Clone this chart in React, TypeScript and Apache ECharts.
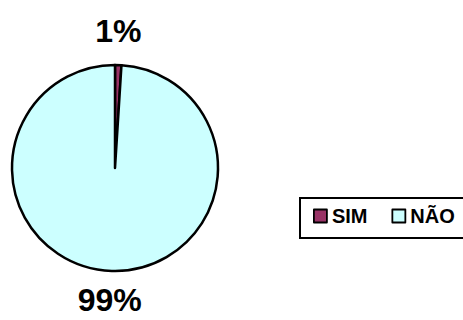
import React, { useEffect, useRef } from "react";
import * as echarts from "echarts";

const categories = ["SIM", "NÃO"];
const values = [1, 99];
const colors = ["#993366", "#CCFFFF"];
const labelOffsets = [[-6, -1], [4, -4]];

export default function App() {
  const ref = useRef<HTMLDivElement>(null);
  useEffect(() => {
    if (!ref.current) return;
    const chart = echarts.init(ref.current, undefined, { renderer: "svg" });
    const total = values.reduce((a, b) => a + b, 0);
    chart.setOption({
      animation: false,
      backgroundColor: "#ffffff",
      graphic: [
        {
          type: "rect",
          left: 299,
          top: 197,
          shape: { width: 172, height: 40 },
          style: { fill: "#fff", stroke: "#000", lineWidth: 2 },
          z: 0,
        },
      ],
      legend: {
        left: 313,
        top: 206,
        orient: "horizontal",
        padding: 0,
        itemWidth: 13,
        itemHeight: 13,
        itemGap: 24,
        icon: "rect",
        z: 10,
        itemStyle: { borderColor: "#000", borderWidth: 1.8 },
        textStyle: {
          fontFamily: "Liberation Sans",
          fontWeight: "bold",
          fontSize: 20,
          color: "#000",
        },
        data: categories,
      },
      series: [
        {
          type: "pie",
          center: [115, 168],
          radius: 103,
          startAngle: 90,
          clockwise: true,
          avoidLabelOverlap: false,
          itemStyle: { borderColor: "#000", borderWidth: 2.5 },
          label: {
            show: true,
            position: "outside",
            formatter: (p: any) => Math.round((p.value / total) * 100) + "%",
            fontFamily: "Liberation Sans",
            fontWeight: "bold",
            fontSize: 32,
            lineHeight: 28,
            color: "#000",
          },
          labelLine: { show: false, length: 33, length2: 0 },
          labelLayout: () => ({ align: "center", verticalAlign: "middle" }),
          data: categories.map((c, i) => ({
            name: c,
            value: values[i],
            itemStyle: { color: colors[i] },
            label: { offset: labelOffsets[i] },
          })),
        },
      ],
    });
    return () => chart.dispose();
  }, []);
  return (
    <div
      ref={ref}
      style={{ position: "fixed", left: 0, top: 0, width: 463, height: 320 }}
    />
  );
}
